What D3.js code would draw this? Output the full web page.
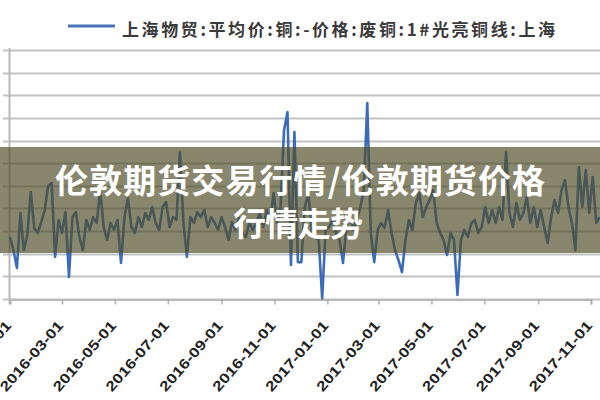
<!DOCTYPE html>
<html>
<head>
<meta charset="utf-8">
<script src="https://cdn.jsdelivr.net/npm/d3@7/dist/d3.min.js"></script>
<style>
  html, body { margin: 0; padding: 0; background: #ffffff; }
  svg { display: block; }
</style>
</head>
<body>
<svg id="chart" width="600" height="400"></svg>
<script>
// ---------------- data ----------------
const seriesName = "上海物贸:平均价:铜:-价格:废铜:1#光亮铜线:上海";
const titleLines = ["伦敦期货交易行情/伦敦期货价格", "行情走势"];
const startDate = "2016-01-01";
const stepDays = 4;
const xTickLabels = ["2016-01-01","2016-03-01","2016-05-01","2016-07-01","2016-09-01","2016-11-01",
                     "2017-01-01","2017-03-01","2017-05-01","2017-07-01","2017-09-01","2017-11-01"];
const yTicks = [0,100,200,300,400,500,600,700,800,900,1000,1100];
const values = [
  274,216,137,380,216,283,473,314,292,340, 393,499,512,186,349,292,384, 97,362,384,
  274,216,349,305,362,336,481,318,261,336, 305,349,159,362,446,318,292,362,318,380,
  349,406,336,305,406,428,318,362,349,649, 336,186,362,336,384,362,393,318,362,336,
  305,362,318,261,340,305,358,292,274,340, 305,336,380,318,393,349,468,336,406,746,
  826,150,738,163,163,406,468,305,274,261,   4,305,318,349,292,261,159,318,362,305,
  349,406,481,866,292,163,305,336,314,393, 292,216,172,119,261,349,305,424,468,362,
  406,437,481,336,292,261,194,292,261, 18, 261,305,274,336,349,292,318,406,336,393,
  336,406,349,649,380,318,424,349,380,450, 336,406,318,393,318,247,362,437,380,481,
  525,406,336,216,583,406,570,380,539,336, 362
];

// ---------------- chart ----------------
const svg = d3.select("#chart");
const W = 600, H = 400;
const plot = { left: 10, right: 600, top: 50, bottom: 299 };

const parse = d3.timeParse("%Y-%m-%d");
const t0 = parse(startDate);
const data = values.map((v, i) => ({ date: d3.timeDay.offset(t0, i * stepDays), value: v }));

const x = d3.scaleTime()
  .domain([parse("2016-01-01"), parse("2017-11-01")])
  .range([plot.left, 591]);
const y = d3.scaleLinear()
  .domain([0, 1100])
  .range([plot.bottom, plot.top]);

svg.append("rect").attr("width", W).attr("height", H).attr("fill", "#ffffff");

// gridlines
svg.append("g")
  .selectAll("line")
  .data(yTicks)
  .join("line")
  .attr("x1", 3).attr("x2", W)
  .attr("y1", d => Math.round(y(d)) + 0.5)
  .attr("y2", d => Math.round(y(d)) + 0.5)
  .attr("stroke", "#c2c2c2")
  .attr("stroke-width", 2);

// left axis line
svg.append("line")
  .attr("x1", plot.left - 0.5).attr("x2", plot.left - 0.5)
  .attr("y1", plot.top - 2).attr("y2", plot.bottom + 5)
  .attr("stroke", "#b8b8b8").attr("stroke-width", 2);

// x axis
const xAxis = d3.axisBottom(x)
  .tickValues(xTickLabels.map(parse))
  .tickSize(5)
  .tickFormat("");
const gx = svg.append("g")
  .attr("transform", `translate(0,${plot.bottom + 0.5})`)
  .call(xAxis);
gx.select(".domain").attr("stroke", "#b8b8b8").attr("stroke-width", 2);
gx.selectAll(".tick line").attr("stroke", "#b0b0b0").attr("stroke-width", 1.5);

// x tick labels (rotated)
svg.append("g")
  .selectAll("text")
  .data(xTickLabels)
  .join("text")
  .attr("transform", d => `translate(${x(parse(d)) + 2},${plot.bottom + 27}) rotate(-49)`)
  .attr("text-anchor", "end")
  .attr("font-family", "'Liberation Sans', Arial, sans-serif")
  .attr("font-weight", "bold")
  .attr("font-size", 14)
  .attr("textLength", 88)
  .attr("lengthAdjust", "spacingAndGlyphs")
  .attr("fill", "#222222")
  .text(d => d);

// series line
const line = d3.line()
  .x(d => x(d.date))
  .y(d => y(d.value));
svg.append("path")
  .datum(data)
  .attr("d", line)
  .attr("fill", "none")
  .attr("stroke", "#3c6cb8")
  .attr("stroke-width", 2.6)
  .attr("stroke-linejoin", "round");

// legend
svg.append("line")
  .attr("x1", 68).attr("x2", 115)
  .attr("y1", 26).attr("y2", 26)
  .attr("stroke", "#4a74b8").attr("stroke-width", 3);
svg.append("text")
  .attr("x", 122).attr("y", 28)
  .attr("dominant-baseline", "central")
  .attr("font-family", "'Noto Sans CJK SC', sans-serif")
  .attr("font-weight", "bold")
  .attr("font-size", 17)
  .attr("textLength", 433)
  .attr("lengthAdjust", "spacing")
  .attr("fill", "#3a3a3a")
  .text(seriesName);

// overlay band
svg.append("rect")
  .attr("x", 0).attr("y", 147)
  .attr("width", W).attr("height", 106)
  .attr("fill", "rgba(80,76,40,0.68)");

// title
const titleY = [179, 222];
const titleLen = [490, 130];
svg.append("g")
  .selectAll("text")
  .data(titleLines)
  .join("text")
  .attr("x", (d, i) => i === 0 ? 300 : 298)
  .attr("y", (d, i) => titleY[i])
  .attr("text-anchor", "middle")
  .attr("dominant-baseline", "central")
  .attr("font-family", "'Noto Sans CJK SC', sans-serif")
  .attr("font-weight", "bold")
  .attr("font-size", 33)
  .attr("textLength", (d, i) => titleLen[i])
  .attr("lengthAdjust", "spacing")
  .attr("fill", "#ffffff")
  .text(d => d);
</script>
</body>
</html>
